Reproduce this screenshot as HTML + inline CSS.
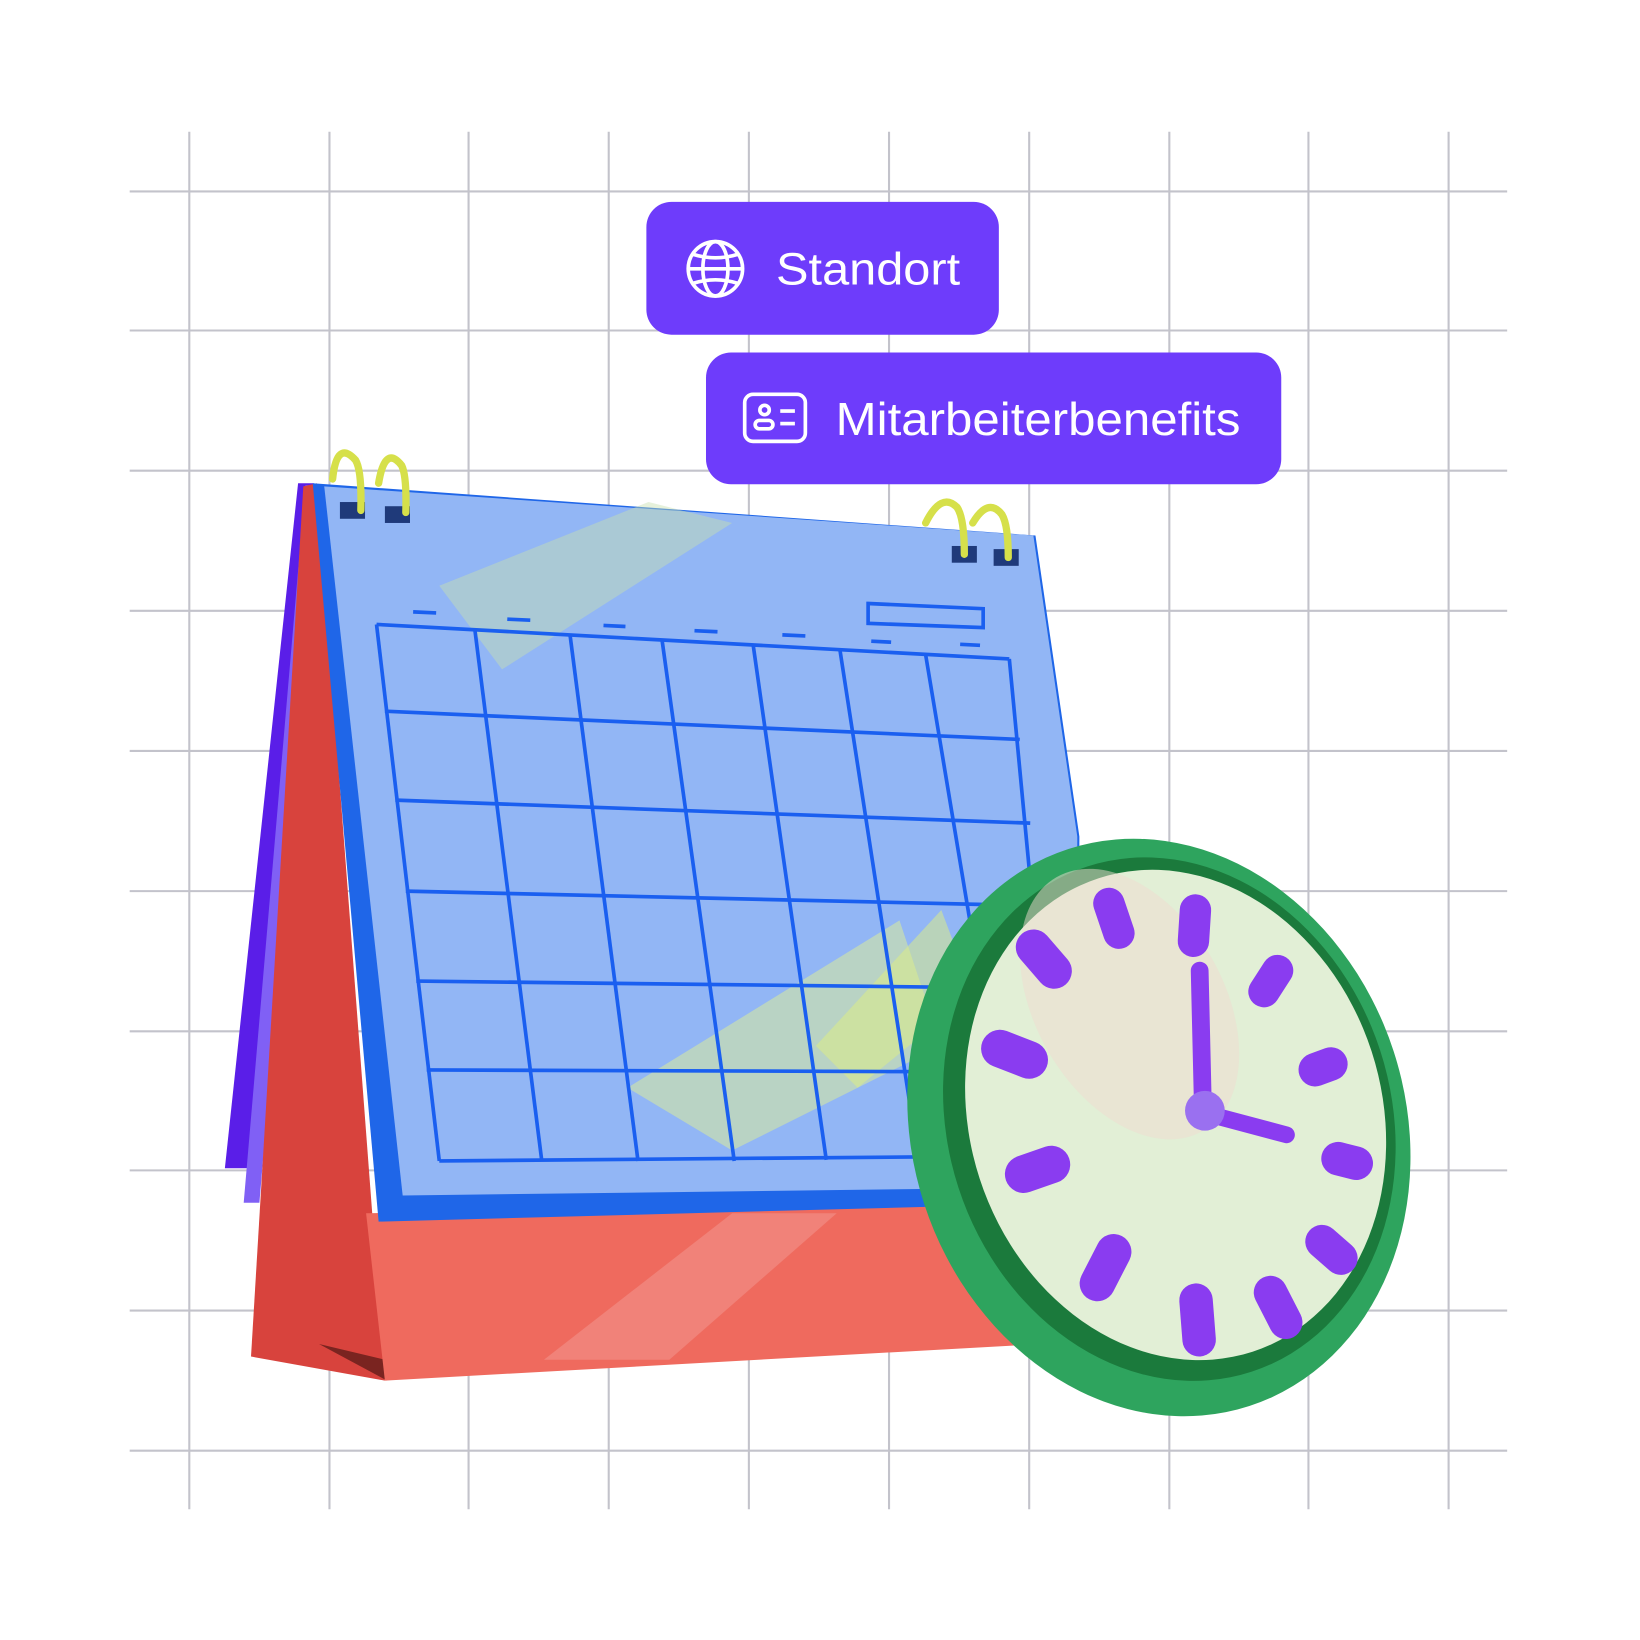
<!DOCTYPE html>
<html><head><meta charset="utf-8"><style>html,body{margin:0;padding:0;background:#fff}svg{display:block}</style></head>
<body>
<svg width="1640" height="1640" viewBox="0 0 1568 1568" xmlns="http://www.w3.org/2000/svg">
<g stroke="#c3c3cb" stroke-width="2">
<line x1="181" y1="126" x2="181" y2="1443"/><line x1="315" y1="126" x2="315" y2="1443"/><line x1="448" y1="126" x2="448" y2="1443"/><line x1="582" y1="126" x2="582" y2="1443"/><line x1="716" y1="126" x2="716" y2="1443"/><line x1="850" y1="126" x2="850" y2="1443"/><line x1="984" y1="126" x2="984" y2="1443"/><line x1="1118" y1="126" x2="1118" y2="1443"/><line x1="1251" y1="126" x2="1251" y2="1443"/><line x1="1385" y1="126" x2="1385" y2="1443"/>
<line x1="124" y1="183" x2="1441" y2="183"/><line x1="124" y1="316" x2="1441" y2="316"/><line x1="124" y1="450" x2="1441" y2="450"/><line x1="124" y1="584" x2="1441" y2="584"/><line x1="124" y1="718" x2="1441" y2="718"/><line x1="124" y1="852" x2="1441" y2="852"/><line x1="124" y1="986" x2="1441" y2="986"/><line x1="124" y1="1119" x2="1441" y2="1119"/><line x1="124" y1="1253" x2="1441" y2="1253"/><line x1="124" y1="1387" x2="1441" y2="1387"/>
</g>
<!-- labels -->
<rect x="618" y="193" width="337" height="127" rx="24" fill="#6e3cfb"/>
<g fill="none" stroke="#fff" stroke-width="3.5"><circle cx="684" cy="257" r="26"/><ellipse cx="684" cy="257" rx="12" ry="26"/><line x1="658" y1="257" x2="710" y2="257"/><path d="M662 243 Q684 250 706 243 M662 271 Q684 264 706 271"/></g>
<text x="742" y="272" font-family="Liberation Sans, sans-serif" font-size="43" fill="#fff" textLength="176" lengthAdjust="spacingAndGlyphs">Standort</text>
<rect x="675" y="337" width="550" height="126" rx="24" fill="#6e3cfb"/>
<g fill="none" stroke="#fff" stroke-width="3.5"><rect x="712" y="377" width="58" height="45" rx="8"/><circle cx="731" cy="392" r="4.5"/><rect x="722" y="402" width="17" height="8" rx="4"/><line x1="746" y1="393" x2="760" y2="393"/><line x1="746" y1="405" x2="760" y2="405"/></g>
<text x="799" y="416" font-family="Liberation Sans, sans-serif" font-size="44" fill="#fff" textLength="387" lengthAdjust="spacingAndGlyphs">Mitarbeiterbenefits</text>
<!-- calendar back -->
<polygon points="285,462 300,462 240,1117 215,1117" fill="#5a1ee8"/>
<polygon points="292,464 306,464 248,1150 233,1150" fill="#8060f5"/>
<polygon points="290,465 303,462 368,1320 240,1297" fill="#d8433d"/>
<polygon points="305,1285 370,1320 368,1300" fill="#7a2420"/>
<polygon points="350,1160 995,1150 995,1285 368,1320" fill="#ef6a5e"/>
<polygon points="520,1300 700,1160 800,1160 640,1300" fill="#f49a93" opacity="0.5"/>
<!-- page -->
<polygon points="299,462 990,512 1032,800 1030,1150 362,1168" fill="#1f66e8"/>
<polygon points="310,465 988,512 1030,800 1028,1135 385,1143" fill="#92b6f5"/>
<polygon points="420,560 620,480 700,500 480,640" fill="#c8e0b0" opacity="0.45"/>
<polygon points="600,1040 860,880 900,1000 700,1100" fill="#d8eb9a" opacity="0.55"/>
<polygon points="780,1000 900,870 930,950 820,1040" fill="#e0ef80" opacity="0.5"/>
<g stroke="#1a5ff0" stroke-width="3.5" fill="none">
<line x1="360" y1="597" x2="420" y2="1110"/><line x1="454" y1="602" x2="518" y2="1110"/><line x1="545" y1="607" x2="610" y2="1110"/><line x1="633" y1="612" x2="702" y2="1110"/><line x1="720" y1="616" x2="790" y2="1109"/><line x1="803" y1="621" x2="878" y2="1108"/><line x1="885" y1="626" x2="965" y2="1107"/><line x1="965" y1="630" x2="1010" y2="1105"/>
<line x1="360" y1="597" x2="965" y2="630"/><line x1="368" y1="680" x2="975" y2="707"/><line x1="378" y1="765" x2="985" y2="787"/><line x1="388" y1="852" x2="993" y2="866"/><line x1="398" y1="938" x2="1000" y2="945"/><line x1="408" y1="1023" x2="1005" y2="1025"/><line x1="420" y1="1110" x2="1010" y2="1105"/>
<line x1="395" y1="585" x2="417" y2="586"/><line x1="485" y1="592" x2="507" y2="593"/><line x1="577" y1="598" x2="598" y2="599"/><line x1="664" y1="603" x2="686" y2="604"/><line x1="748" y1="607" x2="770" y2="608"/><line x1="833" y1="613" x2="852" y2="614"/><line x1="918" y1="616" x2="937" y2="617"/>
<polygon points="830,577 940,582 940,600 830,596"/>
</g>
<!-- rings -->
<g fill="none" stroke-width="7" stroke-linecap="round">
<rect x="325" y="480" width="24" height="16" fill="#1f3a7a" stroke="none"/><rect x="368" y="484" width="24" height="16" fill="#1f3a7a" stroke="none"/>
<rect x="910" y="522" width="24" height="16" fill="#1f3a7a" stroke="none"/><rect x="950" y="525" width="24" height="16" fill="#1f3a7a" stroke="none"/>
<path d="M318 458 Q322 420 340 440 Q346 450 345 488" stroke="#d6e04a"/><path d="M362 462 Q368 425 384 445 Q389 455 388 490" stroke="#d6e04a"/>
<path d="M885 500 Q900 470 915 485 Q922 495 922 530" stroke="#d6e04a"/><path d="M930 500 Q945 475 958 492 Q964 502 964 533" stroke="#d6e04a"/>
</g>
<!-- clock -->
<ellipse cx="1108" cy="1078" rx="236" ry="280" transform="rotate(-18 1108 1078)" fill="#2ea45e"/>
<ellipse cx="1118" cy="1070" rx="212" ry="254" transform="rotate(-18 1118 1070)" fill="#1b7a3c"/>
<ellipse cx="1124" cy="1066" rx="197" ry="238" transform="rotate(-18 1124 1066)" fill="#e2efd6"/>
<ellipse cx="1080" cy="960" rx="90" ry="140" transform="rotate(-30 1080 960)" fill="#f0dccf" opacity="0.5"/>
<g fill="#8a3cf0">
<rect x="-15" y="-30" width="30" height="60" rx="15" transform="translate(1065,878) rotate(-18.7)"/>
<rect x="-15" y="-30" width="30" height="60" rx="15" transform="translate(1142,885) rotate(3.7)"/>
<rect x="-15" y="-27" width="30" height="54" rx="15" transform="translate(1215,938) rotate(32.8)"/>
<rect x="-16" y="-24" width="32" height="48" rx="16" transform="translate(1265,1020) rotate(69.7)"/>
<rect x="-16" y="-25" width="32" height="50" rx="16" transform="translate(1288,1110) rotate(104.2)"/>
<rect x="-16" y="-28" width="32" height="56" rx="16" transform="translate(1273,1195) rotate(131.2)"/>
<rect x="-16" y="-32" width="32" height="64" rx="16" transform="translate(1222,1250) rotate(152.9)"/>
<rect x="-16" y="-35" width="32" height="70" rx="16" transform="translate(1145,1262) rotate(175.5)"/>
<rect x="-17" y="-34" width="34" height="68" rx="17" transform="translate(1057,1212) rotate(-152.8)"/>
<rect x="-18" y="-32" width="36" height="64" rx="18" transform="translate(992,1118) rotate(-109.2)"/>
<rect x="-18" y="-33" width="36" height="66" rx="18" transform="translate(970,1008) rotate(-68.8)"/>
<rect x="-17" y="-32" width="34" height="64" rx="17" transform="translate(998,917) rotate(-40.8)"/>
</g>
<g stroke="#8a3cf0" stroke-linecap="round" fill="none">
<line x1="1150" y1="1055" x2="1147" y2="928" stroke-width="17"/>
<line x1="1155" y1="1065" x2="1230" y2="1085" stroke-width="16"/>
</g>
<circle cx="1152" cy="1062" r="19" fill="#9a70f0"/>
</svg>
</body></html>
